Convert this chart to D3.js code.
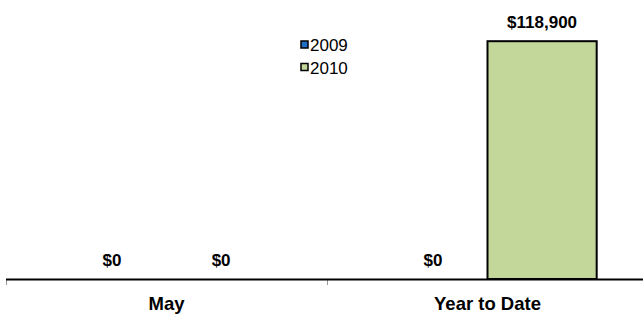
<!DOCTYPE html>
<html>
<head>
<meta charset="utf-8">
<script src="https://cdn.jsdelivr.net/npm/d3@7"></script>
<style>
  body { margin: 0; background: #fff; }
  svg { font-family: 'Liberation Sans', Arial, sans-serif; }
</style>
</head>
<body>
<svg width="643" height="316"></svg>
<script>
var categories = ['May', 'Year to Date'];
var seriesNames = ['2009', '2010'];
var values2009 = [0, 0];
var values2010 = [0, 118900];
var seriesColors = ['#1f6fc5', '#c4d79b'];

var svg = d3.select('svg'),
  axisY = 279,
  left = 6,
  right = 648;

var x = d3.scaleBand().domain(categories).range([left, right]).padding(0);

var x1 = d3
  .scaleBand()
  .domain(seriesNames)
  .range([0, x.bandwidth()])
  .paddingInner(0)
  .paddingOuter(0.47);

var y = d3.scaleLinear().domain([0, 140000]).range([axisY, -1]);

var data = [];
categories.forEach(function (c, i) {
  data.push({ cat: c, series: '2009', value: values2009[i] });
  data.push({ cat: c, series: '2010', value: values2010[i] });
});

var color = d3.scaleOrdinal().domain(seriesNames).range(seriesColors);

// bars (zero bars hide under the axis)
svg
  .selectAll('.bar')
  .data(data.filter(function (d) { return d.value > 0; }))
  .enter()
  .append('rect')
  .attr('class', 'bar')
  .attr('x', function (d) { return x(d.cat) + x1(d.series); })
  .attr('y', function (d) { return y(d.value); })
  .attr('width', x1.bandwidth())
  .attr('height', function (d) { return y(0) - y(d.value); })
  .attr('fill', function (d) { return color(d.series); })
  .attr('stroke', '#000')
  .attr('stroke-width', 2);

// value labels
svg
  .selectAll('.label')
  .data(data)
  .enter()
  .append('text')
  .attr('class', 'label')
  .attr('x', function (d) { return x(d.cat) + x1(d.series) + x1.bandwidth() / 2; })
  .attr('y', function (d) { return y(d.value) - 13.5; })
  .attr('text-anchor', 'middle')
  .attr('font-size', 17)
  .attr('font-weight', 'bold')
  .text(function (d) { return d3.format('$,')(d.value); });

// x axis
var axis = svg.append('g').attr('transform', 'translate(0,' + axisY + ')');
axis
  .selectAll('.tick-mark')
  .data(categories.map(function (c) { return x(c); }).concat([right]))
  .enter()
  .append('line')
  .attr('x1', function (d) { return d + 0.5; })
  .attr('x2', function (d) { return d + 0.5; })
  .attr('y1', 0)
  .attr('y2', 6)
  .attr('stroke', '#999');
axis
  .append('line')
  .attr('x1', left)
  .attr('x2', right)
  .attr('y1', 0.5)
  .attr('y2', 0.5)
  .attr('stroke', '#000')
  .attr('stroke-width', 2);
axis
  .selectAll('.cat')
  .data(categories)
  .enter()
  .append('text')
  .attr('x', function (d) { return x(d) + x.bandwidth() / 2; })
  .attr('y', 31)
  .attr('text-anchor', 'middle')
  .attr('font-size', 18.5)
  .attr('font-weight', 'bold')
  .text(function (d) { return d; });

// legend
var legend = svg
  .selectAll('.legend')
  .data(seriesNames)
  .enter()
  .append('g')
  .attr('transform', function (d, i) { return 'translate(301,' + (41 + i * 22.5) + ')'; });
legend
  .append('rect')
  .attr('width', 7)
  .attr('height', 7)
  .attr('fill', function (d) { return color(d); })
  .attr('stroke', '#000')
  .attr('stroke-width', 1.5);
legend
  .append('text')
  .attr('x', 9)
  .attr('y', 10)
  .attr('font-size', 17)
  .text(function (d) { return d; });
</script>
</body>
</html>
